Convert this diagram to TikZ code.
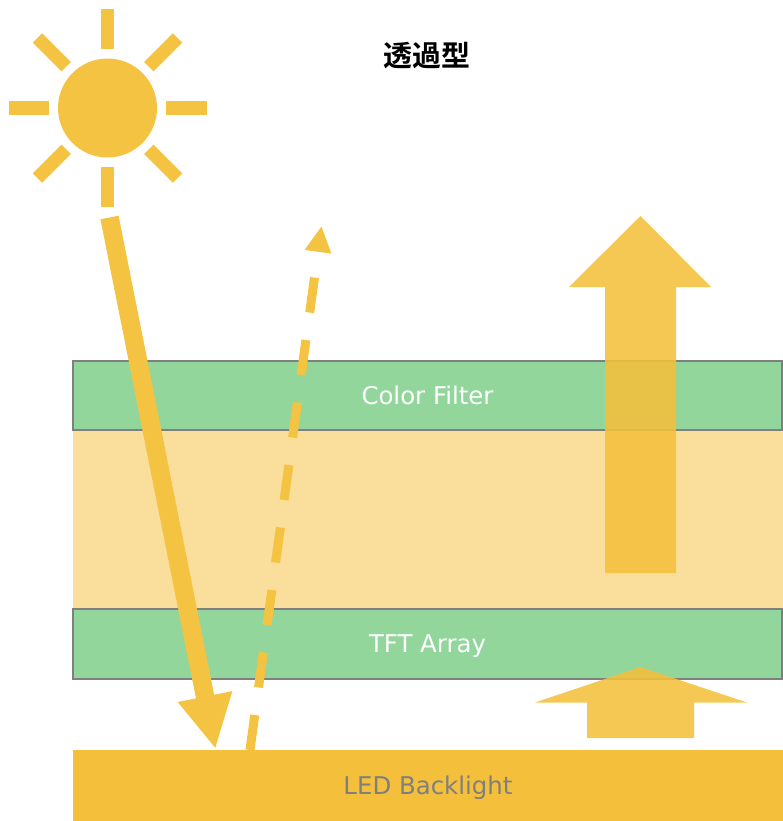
\documentclass[tikz,border=0pt]{standalone}
\usepackage{fontspec}
\setmainfont{DejaVu Sans}
\newfontfamily\jpfont{Noto Sans CJK JP}[BoldFont={Noto Sans CJK JP Bold}]
\usetikzlibrary{arrows.meta,positioning}

\definecolor{sunyellow}{HTML}{F5C342}
\definecolor{backyellow}{HTML}{F4C03C}
\definecolor{crystal}{HTML}{F9DF9B}
\definecolor{filtergreen}{HTML}{92D69C}
\definecolor{edgegray}{HTML}{7F7F7F}

\begin{document}
\begin{tikzpicture}[
  x=0.02cm,y=-0.02cm,
  label/.style={font=\fontsize{13.9}{16}\selectfont,text height=11.8pt,text depth=1pt},
  layer/.style={label,draw=edgegray,line width=0.04cm,fill=filtergreen,minimum width=14.18cm,minimum height=1.4cm,inner sep=0pt,text=white},
  panel/.style={minimum width=14.2cm,inner sep=0pt,outer sep=0pt},
  sunray/.style={draw=sunyellow,line width=0.265cm},
  beam/.style={draw=sunyellow,line width=0.37cm,-{Triangle[length=1.07cm,width=1.03cm,fill=sunyellow]}},
  echo/.style={draw=sunyellow,line width=0.18cm,dash pattern=on 20.1pt off 15.8pt,-{Triangle[length=0.52cm,width=0.5cm,fill=sunyellow]}},
  glow/.style={fill=backyellow,fill opacity=0.88}
]
\useasboundingbox (0,0) rectangle (783,821);

% stack of panels
\node[panel,fill=crystal,minimum height=3.54cm] (crystal) at (428,519.5) {};
\node[layer] (filter) at (427.5,395.5) {Color Filter};
\node[layer] (tft) at (427.5,643.5) {TFT Array};
\node[panel,label,fill=backyellow,minimum height=1.42cm,text=edgegray] (backlight) at (428,785.5) {LED Backlight};

\node[font=\jpfont\bfseries\fontsize{16.5}{20}\selectfont] (title) at (427,56) {透過型};

% sun
\node[circle,fill=sunyellow,minimum size=1.98cm,inner sep=0pt] (sun) at (107.5,108) {};
\foreach \a in {0,45,...,315}
  \draw[sunray] (sun.center) ++(\a:58.5) -- ++(\a:40.5);

% reflected rays
\coordinate (beamstart) at (109.5,217.5);
\coordinate (beamend) at (215.5,749);
\coordinate (echostart) at (250,750);
\coordinate (echoend) at (321.5,226);
\draw[beam] (beamstart) -- (beamend);
\draw[echo] (echostart) -- (echoend);

% light from the backlight
\fill[glow] (605,573) -- (605,287) -- (569,287) -- (640.5,216) -- (711,287) -- (676,287) -- (676,573) -- cycle;
\fill[glow] (587,738) -- (587,702.5) -- (535,702.5) -- (640.5,667) -- (747,702.5) -- (694,702.5) -- (694,738) -- cycle;
\end{tikzpicture}
\end{document}
